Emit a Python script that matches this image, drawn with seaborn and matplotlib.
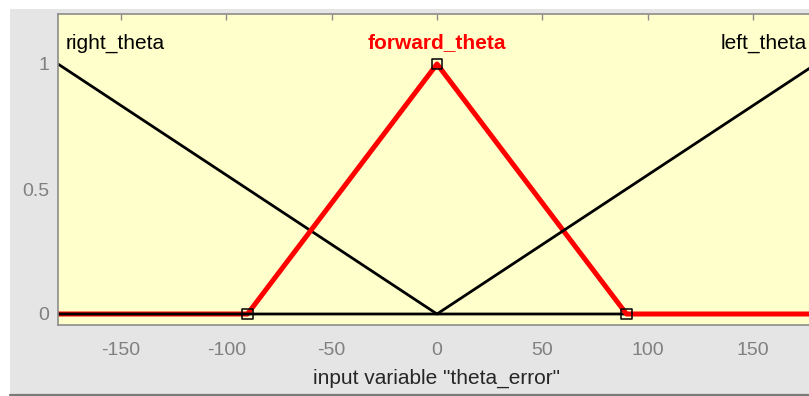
import matplotlib
matplotlib.use("Agg")
import matplotlib.pyplot as plt
from matplotlib.patches import Rectangle
from matplotlib.lines import Line2D
import seaborn as sns
import pandas as pd

# Membership functions of the input variable "theta_error"
right_x = [-180, 0, 180]
right_y = [1, 0, 0]
forward_x = [-180, -90, 0, 90, 180]
forward_y = [0, 0, 1, 0, 0]
left_x = [-180, 0, 180]
left_y = [0, 0, 1]

# Parameter points of the selected (forward) membership function
param_x = [-90, 0, 90]
param_y = [0, 1, 0]

mf_names = ["right_theta", "forward_theta", "left_theta"]
x_ticks = [-150, -100, -50, 0, 50, 100, 150]
y_ticks = [0, 0.5, 1]
y_tick_labels = ["0", "0.5", "1"]
x_label = 'input variable "theta_error"'

sns.set_style("white")
plt.rcParams["font.family"] = ["Liberation Sans", "DejaVu Sans"]

W, H = 809, 396
fig = plt.figure(figsize=(W / 100, H / 100), dpi=100, facecolor="white")

# window panel behind the axes
fig.patches.append(Rectangle((10 / W, 2 / H), (W - 10) / W, (H - 11) / H,
                             transform=fig.transFigure, facecolor="#e5e5e5",
                             edgecolor="none", zorder=-10))
fig.lines.append(Line2D([10 / W, 1], [1 / H, 1 / H], transform=fig.transFigure,
                        color="#7a7a7a", lw=1.6, zorder=-5))

ax_l, ax_r, ax_t, ax_b = 58, 816, 14, 325
ax = fig.add_axes([ax_l / W, 1 - ax_b / H, (ax_r - ax_l) / W, (ax_b - ax_t) / H])
ax.set_facecolor("#ffffcc")

dfs = {
    "right_theta": pd.DataFrame({"x": right_x, "y": right_y}),
    "forward_theta": pd.DataFrame({"x": forward_x, "y": forward_y}),
    "left_theta": pd.DataFrame({"x": left_x, "y": left_y}),
}
styles = {
    "right_theta": dict(color="black", lw=2.0),
    "forward_theta": dict(color="#ff0000", lw=3.6),
    "left_theta": dict(color="black", lw=2.0),
}
for name in mf_names:
    sns.lineplot(data=dfs[name], x="x", y="y", sort=False, estimator=None,
                 ax=ax, solid_capstyle="butt", **styles[name])

sns.scatterplot(x=param_x, y=param_y, marker="s", s=55, facecolor="none",
                edgecolor="black", linewidth=1.1, ax=ax, zorder=5, clip_on=False)

ax.set_xlim(-180, 180)
ax.set_ylim(-0.044, 1.2)

ax.text(-176.5, 1.06, "right_theta", ha="left", va="baseline", fontsize=15, color="black")
ax.text(0, 1.065, "forward_theta", ha="center", va="baseline", fontsize=15,
        color="#ff0000", fontweight="bold")
ax.text(175.5, 1.06, "left_theta", ha="right", va="baseline", fontsize=15, color="black")

ax.set_xticks(x_ticks)
ax.set_xticklabels([str(v) for v in x_ticks])
ax.set_yticks(y_ticks)
ax.set_yticklabels(y_tick_labels)
ax.tick_params(axis="both", direction="in", length=4, width=1, colors="#8c8c8c",
               labelcolor="#808080", labelsize=14, top=True, right=True)
ax.tick_params(axis="x", pad=12)
ax.tick_params(axis="y", pad=6.5)
for sp in ax.spines.values():
    sp.set_color("#8c8c8c")
    sp.set_linewidth(1.2)

ax.set_xlabel(x_label, fontsize=15, color="#262626", labelpad=7)
ax.set_ylabel("")

fig.savefig("out.png", dpi=100, facecolor="white")
